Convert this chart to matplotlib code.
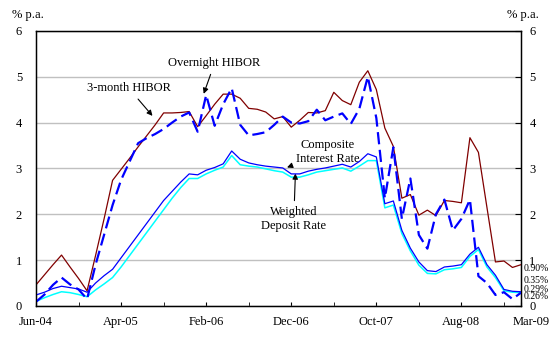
import numpy as np
import pandas as pd
import matplotlib
matplotlib.use("Agg")
import matplotlib.pyplot as plt
import matplotlib.transforms as mtransforms

plt.rcParams['font.family'] = ['Liberation Serif', 'DejaVu Serif']

# --- Data (monthly, Jun-04 .. Mar-09, % p.a.) ---
months = pd.date_range("2004-06-01", "2009-03-01", freq="MS")

hibor_3m = [0.46, 0.68, 0.90, 1.11, 0.85, 0.60, 0.33, 1.10, 1.90, 2.74,
            2.98, 3.22, 3.47, 3.71, 3.95, 4.21, 4.21, 4.22, 4.24, 3.91,
            4.15, 4.40, 4.62, 4.62, 4.53, 4.31, 4.29, 4.23, 4.08, 4.13,
            3.90, 4.05, 4.22, 4.21, 4.26, 4.66, 4.48, 4.39, 4.88, 5.13,
            4.72, 3.88, 3.48, 2.35, 2.43, 1.98, 2.09, 1.97, 2.30, 2.28,
            2.25, 3.67, 3.35, 2.15, 0.96, 0.98, 0.84, 0.90]

hibor_on = [0.09, 0.25, 0.46, 0.62, 0.47, 0.36, 0.15, 0.90, 1.55, 2.20,
            2.75, 3.15, 3.55, 3.66, 3.75, 3.86, 4.00, 4.13, 4.22, 3.80,
            4.60, 3.93, 4.40, 4.75, 3.95, 3.72, 3.75, 3.79, 3.95, 4.13,
            4.00, 3.98, 4.03, 4.28, 4.05, 4.13, 4.20, 3.97, 4.30, 5.00,
            4.10, 2.35, 3.46, 1.90, 2.78, 1.55, 1.25, 2.00, 2.32, 1.65,
            1.90, 2.32, 0.65, 0.50, 0.24, 0.30, 0.15, 0.29]

composite = [0.24, 0.30, 0.38, 0.43, 0.40, 0.37, 0.30, 0.50, 0.66, 0.80,
             1.05, 1.30, 1.55, 1.80, 2.05, 2.30, 2.50, 2.70, 2.88, 2.86,
             2.96, 3.02, 3.10, 3.38, 3.20, 3.12, 3.08, 3.05, 3.03, 3.01,
             2.88, 2.88, 2.94, 2.98, 3.01, 3.05, 3.09, 3.03, 3.15, 3.32,
             3.25, 2.23, 2.29, 1.65, 1.26, 0.96, 0.77, 0.75, 0.85, 0.87,
             0.90, 1.13, 1.28, 0.90, 0.67, 0.36, 0.32, 0.31]

deposit = [0.10, 0.18, 0.25, 0.31, 0.29, 0.25, 0.20, 0.35, 0.48, 0.62,
           0.85, 1.10, 1.35, 1.60, 1.85, 2.10, 2.35, 2.58, 2.78, 2.78,
           2.88, 2.96, 3.03, 3.28, 3.08, 3.05, 3.03, 2.99, 2.95, 2.92,
           2.81, 2.81, 2.86, 2.92, 2.95, 2.98, 3.01, 2.94, 3.05, 3.17,
           3.17, 2.14, 2.20, 1.58, 1.20, 0.89, 0.71, 0.70, 0.79, 0.81,
           0.84, 1.08, 1.23, 0.85, 0.62, 0.33, 0.30, 0.29]

end_labels = ["0.90%", "0.35%", "0.29%", "0.26%"]
end_label_y = [0.81, 0.56, 0.36, 0.20]

x = np.arange(len(months))
label_idx = [0, 10, 20, 30, 40, 50, 57]
tick_labels = [months[i].strftime("%b-%y") for i in label_idx]

# --- Plot ---
fig = plt.figure(figsize=(5.6, 3.43), dpi=100)
ax = fig.add_axes([0.0643, 0.108, 0.866, 0.802])

ax.plot(x, deposit, color="#00ffff", lw=1.1, zorder=3)
ax.plot(x, composite, color="#0000ff", lw=0.9, zorder=4)
ax.plot(x, hibor_3m, color="#800000", lw=0.9, zorder=5)
ax.plot(x, hibor_on, color="#0000ff", lw=1.6, dashes=(5.5, 2.5), zorder=6)

ax.set_xlim(0, 57)
ax.set_ylim(0, 6)
ax.set_yticks(range(7))
ax.yaxis.grid(True, color="#c0c0c0", lw=1)
ax.set_axisbelow(True)

ax.set_xticks(label_idx)
ax.set_xticklabels(tick_labels)
ax.set_xticks(np.arange(5, 57, 5), minor=True)
ax.tick_params(axis="x", which="both", direction="in", length=3, labelsize=9, pad=7)
ax.tick_params(axis="y", direction="in", length=0, labelsize=9, pad=10)

# last label sits a little right of the axis end
lab = ax.get_xticklabels()[-1]
lab.set_transform(lab.get_transform() + mtransforms.ScaledTranslation(0.1, 0, fig.dpi_scale_trans))

for s in ax.spines.values():
    s.set_linewidth(1.0)
    s.set_color("black")

ax2 = ax.twinx()
ax2.set_ylim(0, 6)
ax2.set_yticks(range(7))
ax2.tick_params(axis="y", direction="in", length=4, labelsize=9, pad=6)

fig.text(0.05, 0.955, "% p.a.", ha="center", va="center", fontsize=9)
fig.text(0.933, 0.955, "% p.a.", ha="center", va="center", fontsize=9)

# --- Annotations ---
arrow = dict(arrowstyle="-|>", color="black", lw=0.8, mutation_scale=8)
ax.annotate("Overnight HIBOR", xy=(19.6, 4.57), xytext=(21, 5.3),
            ha="center", va="center", fontsize=9, arrowprops=arrow)
ax.annotate("3-month HIBOR", xy=(13.9, 4.1), xytext=(10.9, 4.75),
            ha="center", va="center", fontsize=9, arrowprops=arrow)
ax.annotate("Composite\nInterest Rate", xy=(29.2, 3.0), xytext=(34.3, 3.36),
            ha="center", va="center", fontsize=9, linespacing=1.15, arrowprops=arrow)
ax.annotate("Weighted\nDeposit Rate", xy=(30.5, 2.95), xytext=(30.3, 1.9),
            ha="center", va="center", fontsize=9, linespacing=1.15, arrowprops=arrow)

for txt, yv in zip(end_labels, end_label_y):
    ax.text(57.3, yv, txt, ha="left", va="center", fontsize=7, clip_on=False)

fig.savefig("out.png", dpi=100)
